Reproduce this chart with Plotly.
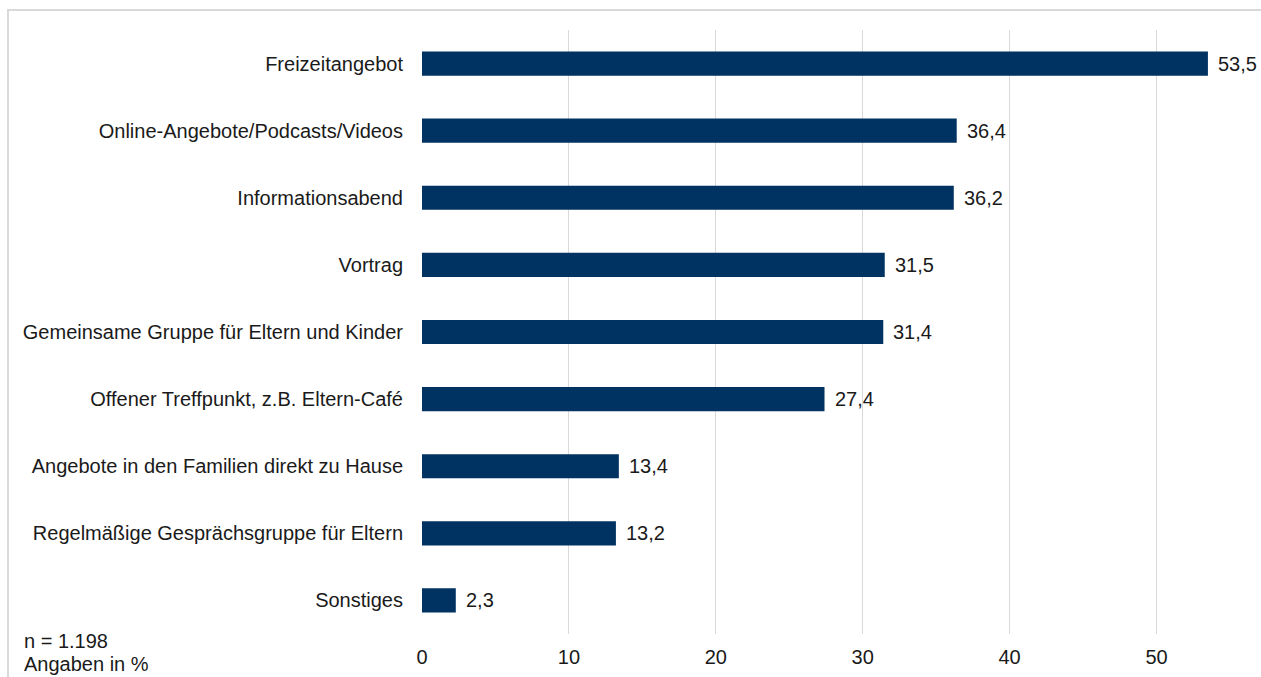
import plotly.graph_objects as go

categories = [
    "Freizeitangebot",
    "Online-Angebote/Podcasts/Videos",
    "Informationsabend",
    "Vortrag",
    "Gemeinsame Gruppe für Eltern und Kinder",
    "Offener Treffpunkt, z.B. Eltern-Café",
    "Angebote in den Familien direkt zu Hause",
    "Regelmäßige Gesprächsgruppe für Eltern",
    "Sonstiges",
]
values = [53.5, 36.4, 36.2, 31.5, 31.4, 27.4, 13.4, 13.2, 2.3]
x_ticks = [0, 10, 20, 30, 40, 50]

W, H = 1261, 677
L, R, T, B = 422, 24, 30, 43
pw, ph = W - L - R, H - T - B
FONT = "Liberation Sans, Arial, sans-serif"
TXT = "#1a1a1a"

fig = go.Figure(go.Bar(
    x=values,
    y=categories,
    orientation="h",
    marker=dict(color="#003262", line=dict(width=0)),
    hoverinfo="x+y",
))

# value labels next to each bar end
for cat, v in zip(categories, values):
    fig.add_annotation(
        x=v, y=cat, xref="x", yref="y",
        text=f"{v:.1f}".replace(".", ","),
        xanchor="left", yanchor="middle", xshift=8,
        showarrow=False, font=dict(size=20, color=TXT, family=FONT),
    )

# light frame around the chart
fig.add_shape(
    type="rect", xref="paper", yref="paper",
    x0=(8 - L) / pw, x1=(W + 10 - L) / pw,
    y0=-(H + 10 - (T + ph)) / ph, y1=1 + (T - 10) / ph,
    line=dict(color="#d9d9d9", width=2), fillcolor="rgba(0,0,0,0)",
    layer="below",
)

for txt, ypix in [("n = 1.198", 641), ("Angaben in %", 664)]:
    fig.add_annotation(
        text=txt, xref="paper", yref="paper",
        x=(22 - L) / pw, y=1 - (ypix - T) / ph,
        xanchor="left", yanchor="middle", showarrow=False,
        font=dict(size=20, color=TXT, family=FONT),
    )

fig.update_layout(
    width=W, height=H,
    margin=dict(l=L, r=R, t=T, b=B),
    paper_bgcolor="white", plot_bgcolor="white",
    separators=",.",
    font=dict(family=FONT, size=20, color=TXT),
    bargap=0.64,
    showlegend=False,
    xaxis=dict(
        range=[0, pw / 146.9 * 10],
        tickvals=x_ticks,
        showgrid=True, gridcolor="#d9d9d9", gridwidth=1,
        zeroline=False, showline=False, automargin=False,
        ticks="", ticklabelstandoff=9,
        tickfont=dict(size=20, color=TXT),
    ),
    yaxis=dict(
        autorange="reversed",
        showgrid=False, zeroline=False, showline=False, automargin=False,
        ticks="", ticklabelstandoff=18,
        tickfont=dict(size=20, color=TXT),
    ),
)

fig.write_html("out.html")
